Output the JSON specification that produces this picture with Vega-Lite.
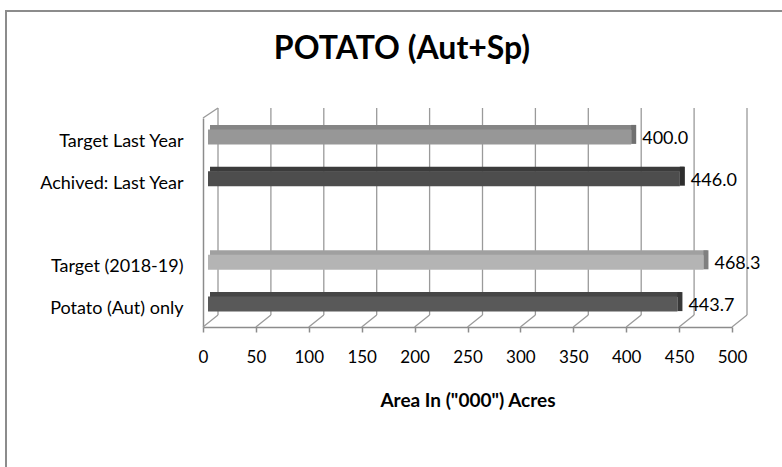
{
  "$schema": "https://vega.github.io/schema/vega-lite/v6.json",
  "width": 778,
  "height": 458,
  "autosize": {"type": "none"},
  "padding": {"left": 6, "top": 11, "right": 0, "bottom": 0},
  "background": "white",
  "config": {"font": "Lato", "view": {"stroke": "#8c8c8c", "strokeWidth": 2, "fill": "white"}},
  "title": {"text": "POTATO (Aut+Sp)", "fontSize": 32, "fontWeight": "bold", "color": "#000000", "anchor": "middle", "frame": "group", "baseline": "alphabetic", "offset": -80, "dx": 7},
  "datasets": {
    "bars": [
      {"item": "Target  Last Year", "area": 400.0},
      {"item": "Achived: Last Year", "area": 446.0},
      {"item": "Target (2018-19)", "area": 468.3},
      {"item": "Potato (Aut) only", "area": 443.7}
    ],
    "ticks": [{"t": 0}, {"t": 50}, {"t": 100}, {"t": 150}, {"t": 200}, {"t": 250}, {"t": 300}, {"t": 350}, {"t": 400}, {"t": 450}, {"t": 500}]
  },
  "layer": [
    {
      "data": {"name": "ticks"},
      "encoding": {
        "x": {"field": "t", "type": "quantitative", "scale": {"domain": [0, 500], "range": [197, 726], "nice": false, "zero": true},
          "axis": {"orient": "bottom", "offset": -142, "values": [0, 50, 100, 150, 200, 250, 300, 350, 400, 450, 500], "grid": false, "domainColor": "#8c8c8c", "domainWidth": 1.5, "tickColor": "#8c8c8c", "tickWidth": 1.5, "tickSize": 5, "labelFontSize": 17, "labelPadding": 17, "labelColor": "#000000", "labelFlush": false, "title": "Area In (\"000\") Acres", "titleFontSize": 19, "titleFontWeight": "bold", "titleColor": "#000000", "titleY": 79, "titleBaseline": "alphabetic"}}
      },
      "layer": [
        {
          "mark": {"type": "rule", "color": "#9a9a9a", "strokeWidth": 1.3, "xOffset": 15, "yOffset": -10, "y2Offset": -12},
          "encoding": {
            "y": {"datum": 1, "type": "quantitative", "scale": {"domain": [0, 1], "range": [316, 107]}, "axis": null},
            "y2": {"datum": 0}
          }
        },
        {
          "mark": {"type": "rule", "color": "#9a9a9a", "strokeWidth": 1.3, "x2Offset": 15, "y2Offset": -12},
          "encoding": {
            "x2": {"field": "t"},
            "y": {"datum": 0, "type": "quantitative", "scale": {"domain": [0, 1], "range": [316, 107]}, "axis": null},
            "y2": {"datum": 0}
          }
        },
        {
          "transform": [{"filter": "datum.t == 0"}],
          "mark": {"type": "rule", "color": "#9a9a9a", "strokeWidth": 1.3, "x2Offset": 15, "y2Offset": -10},
          "encoding": {
            "x2": {"field": "t"},
            "y": {"datum": 1, "type": "quantitative", "scale": {"domain": [0, 1], "range": [316, 107]}, "axis": null},
            "y2": {"datum": 1}
          }
        }
      ]
    },
    {
      "data": {"name": "bars"},
      "encoding": {
        "x": {"field": "area", "type": "quantitative", "scale": {"domain": [0, 500], "range": [197, 726], "nice": false, "zero": true},
          "axis": {"orient": "bottom", "offset": -142, "values": [0, 50, 100, 150, 200, 250, 300, 350, 400, 450, 500], "grid": false, "domainColor": "#8c8c8c", "domainWidth": 1.5, "tickColor": "#8c8c8c", "tickWidth": 1.5, "tickSize": 5, "labelFontSize": 17, "labelPadding": 17, "labelColor": "#000000", "labelFlush": false, "title": "Area In (\"000\") Acres", "titleFontSize": 19, "titleFontWeight": "bold", "titleColor": "#000000", "titleY": 79, "titleBaseline": "alphabetic"}},
        "y": {"field": "item", "type": "nominal", "sort": null,
          "scale": {"domain": ["Target  Last Year", "Achived: Last Year", "", "Target (2018-19)", "Potato (Aut) only"], "range": [107, 316], "paddingInner": 0, "paddingOuter": 0},
          "axis": {"orient": "left", "offset": -197, "ticks": false, "domainColor": "#8c8c8c", "domainWidth": 1.5, "labelFontSize": 18, "labelPadding": 20, "labelOffset": 3, "labelColor": "#000000", "title": null}}
      },
      "layer": [
        {
          "mark": {"type": "bar", "size": 5, "yOffset": -11.5, "xOffset": 9, "x2Offset": 7},
          "encoding": {
            "x2": {"datum": 0},
            "color": {"field": "item", "type": "nominal", "legend": null,
              "scale": {"domain": ["Target  Last Year", "Achived: Last Year", "Target (2018-19)", "Potato (Aut) only"], "range": ["#858585", "#3b3b3b", "#a0a0a0", "#464646"]}}
          }
        },
        {
          "mark": {"type": "bar", "size": 15, "yOffset": -2, "xOffset": 5, "x2Offset": 5},
          "encoding": {
            "x2": {"datum": 0},
            "color": {"field": "item", "type": "nominal", "legend": null,
              "scale": {"domain": ["Target  Last Year", "Achived: Last Year", "Target (2018-19)", "Potato (Aut) only"], "range": ["#979797", "#4d4d4d", "#b4b4b4", "#595959"]}}
          }
        },
        {
          "mark": {"type": "bar", "size": 19, "yOffset": -4.5, "xOffset": 5, "x2Offset": 10},
          "encoding": {
            "x2": {"field": "area"},
            "color": {"field": "item", "type": "nominal", "legend": null,
              "scale": {"domain": ["Target  Last Year", "Achived: Last Year", "Target (2018-19)", "Potato (Aut) only"], "range": ["#707070", "#2e2e2e", "#808080", "#383838"]}}
          }
        },
        {
          "mark": {"type": "text", "align": "left", "baseline": "middle", "dx": 16, "fontSize": 18, "color": "#000000"},
          "encoding": {
            "text": {"field": "area", "type": "quantitative", "format": ".1f"}
          }
        }
      ],
      "resolve": {"scale": {"color": "independent"}}
    }
  ],
  "resolve": {"scale": {"y": "independent"}}
}
